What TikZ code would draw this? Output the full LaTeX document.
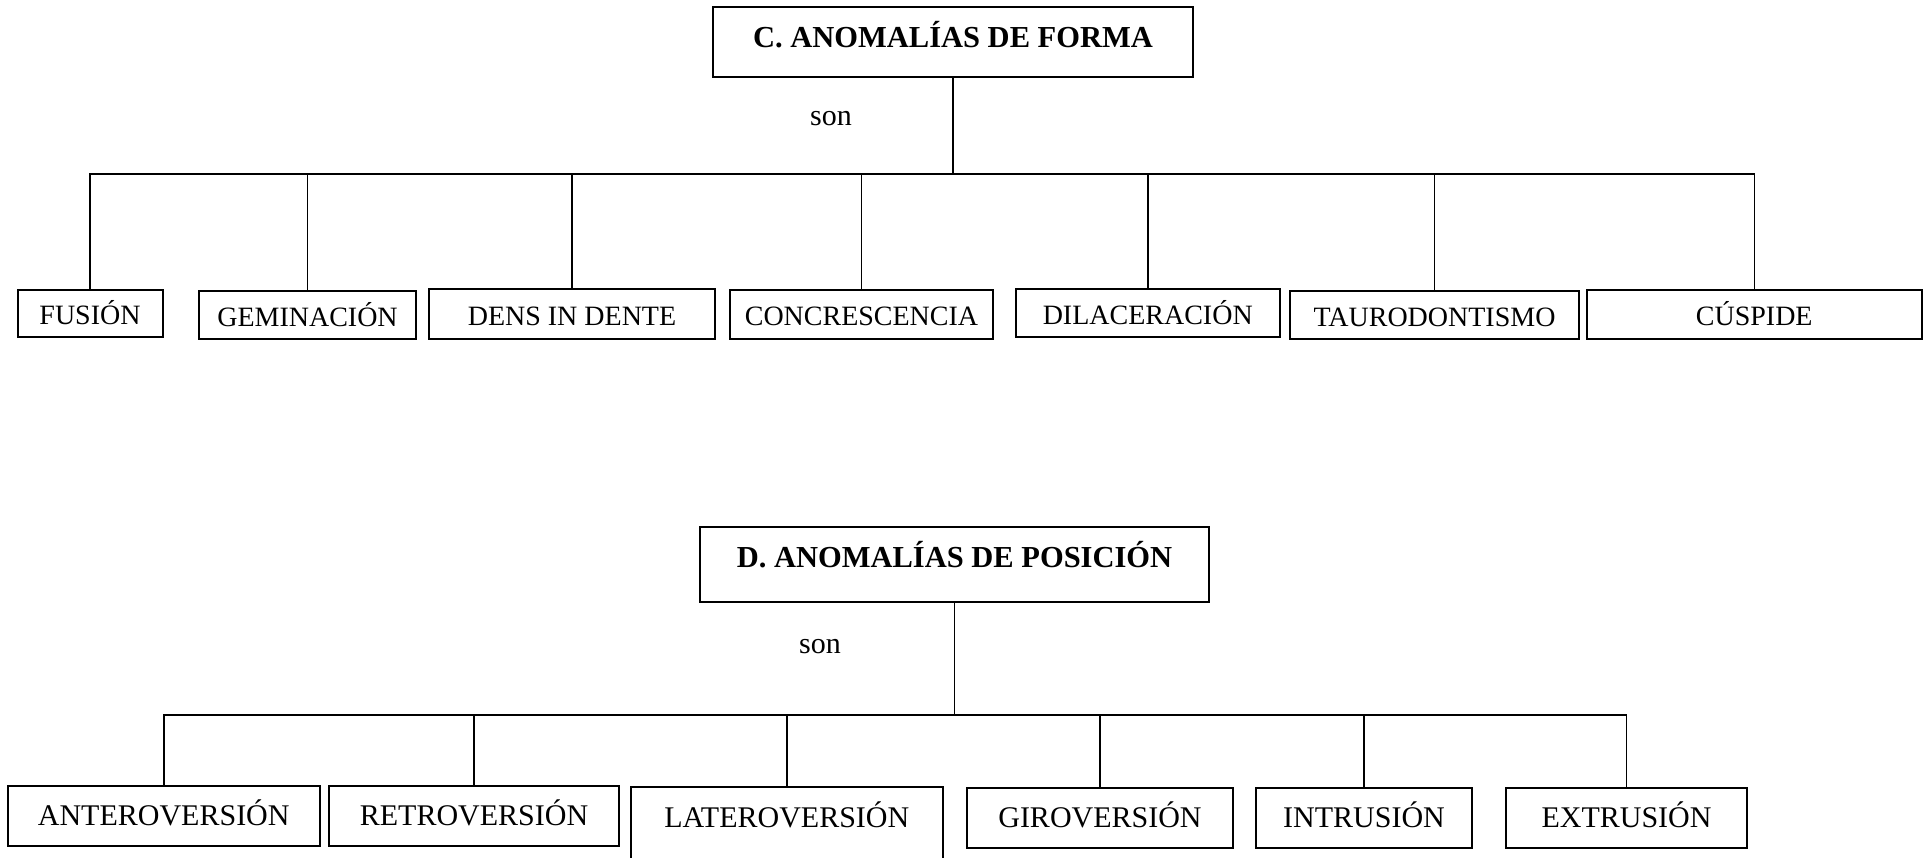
\documentclass[tikz,border=0pt]{standalone}
\usepackage{fontspec}
\setmainfont{Liberation Serif}
\begin{document}
\begin{tikzpicture}[x=1pt,y=-1pt,
  box/.style={draw,line width=2pt,rectangle,inner sep=0pt,outer sep=0pt},
  titlebox/.style={box,font=\fontsize{30.5}{34}\selectfont\bfseries,text height=21pt},
  rowc/.style={box,font=\fontsize{28}{32}\selectfont,text height=24pt,text depth=1.4pt},
  rowd/.style={box,font=\fontsize{30}{34}\selectfont,text height=22pt,text depth=2.1pt},
  conn/.style={line width=1.5pt},
  sonlbl/.style={font=\fontsize{30}{34}\selectfont,anchor=base,inner sep=0pt}]
\useasboundingbox (0,0) rectangle (1926,858);
\clip (0,0) rectangle (1926,858);
\fill[white] (0,0) rectangle (1926,858);

% ---------- C. ANOMALIAS DE FORMA ----------
\node[titlebox,text depth=9.8pt,minimum width=480pt,minimum height=70pt] (C) at (953,42) {C. ANOMALÍAS DE FORMA};
\node[sonlbl] (son1) at (831,126) {son};
\coordinate (cbar) at (954,174);

\node[rowc,minimum width=145pt,minimum height=47pt] (F1) at (90,313.5) {FUSIÓN};
\node[rowc,minimum width=217pt,minimum height=48pt] (F2) at (307.5,315) {GEMINACIÓN};
\node[rowc,minimum width=286pt,minimum height=50pt] (F3) at (572,314) {DENS IN DENTE};
\node[rowc,minimum width=263pt,minimum height=49pt] (F4) at (861.5,314.5) {CONCRESCENCIA};
\node[rowc,minimum width=264.5pt,minimum height=48pt] (F5) at (1147.75,313) {DILACERACIÓN};
\node[rowc,minimum width=289pt,minimum height=48pt] (F6) at (1434.5,315) {TAURODONTISMO};
\node[rowc,minimum width=335.5pt,minimum height=49pt] (F7) at (1754.25,314.5) {CÚSPIDE};

\draw[conn] (C.south) -- (C.south |- cbar);
\draw[conn] (F1.north) -- (F1.north |- cbar) -- (F7.north |- cbar) -- (F7.north);
\foreach \n in {F2,F3,F4,F5,F6} \draw[conn] (\n.north |- cbar) -- (\n.north);

% ---------- D. ANOMALIAS DE POSICION ----------
\node[titlebox,text depth=14.8pt,minimum width=509pt,minimum height=75pt] (D) at (954.5,564.5) {D. ANOMALÍAS DE POSICIÓN};
\node[sonlbl] (son2) at (820,653) {son};
\coordinate (dbar) at (954,715);

\node[rowd,minimum width=312.5pt,minimum height=60pt] (P1) at (163.75,816) {ANTEROVERSIÓN};
\node[rowd,minimum width=290pt,minimum height=60pt] (P2) at (474,816) {RETROVERSIÓN};
\node[rowd,text height=22pt,text depth=53.1pt,minimum width=311.5pt,minimum height=113pt] (P3) at (786.75,843.5) {LATEROVERSIÓN};
\node[rowd,minimum width=266pt,minimum height=60pt] (P4) at (1100,818) {GIROVERSIÓN};
\node[rowd,minimum width=216pt,minimum height=60pt] (P5) at (1364,818) {INTRUSIÓN};
\node[rowd,minimum width=241pt,minimum height=60pt] (P6) at (1626.5,818) {EXTRUSIÓN};

\draw[conn] (D.south) -- (D.south |- dbar);
\draw[conn] (P1.north) -- (P1.north |- dbar) -- (P6.north |- dbar) -- (P6.north);
\foreach \n in {P2,P3,P4,P5} \draw[conn] (\n.north |- dbar) -- (\n.north);
\end{tikzpicture}
\end{document}
